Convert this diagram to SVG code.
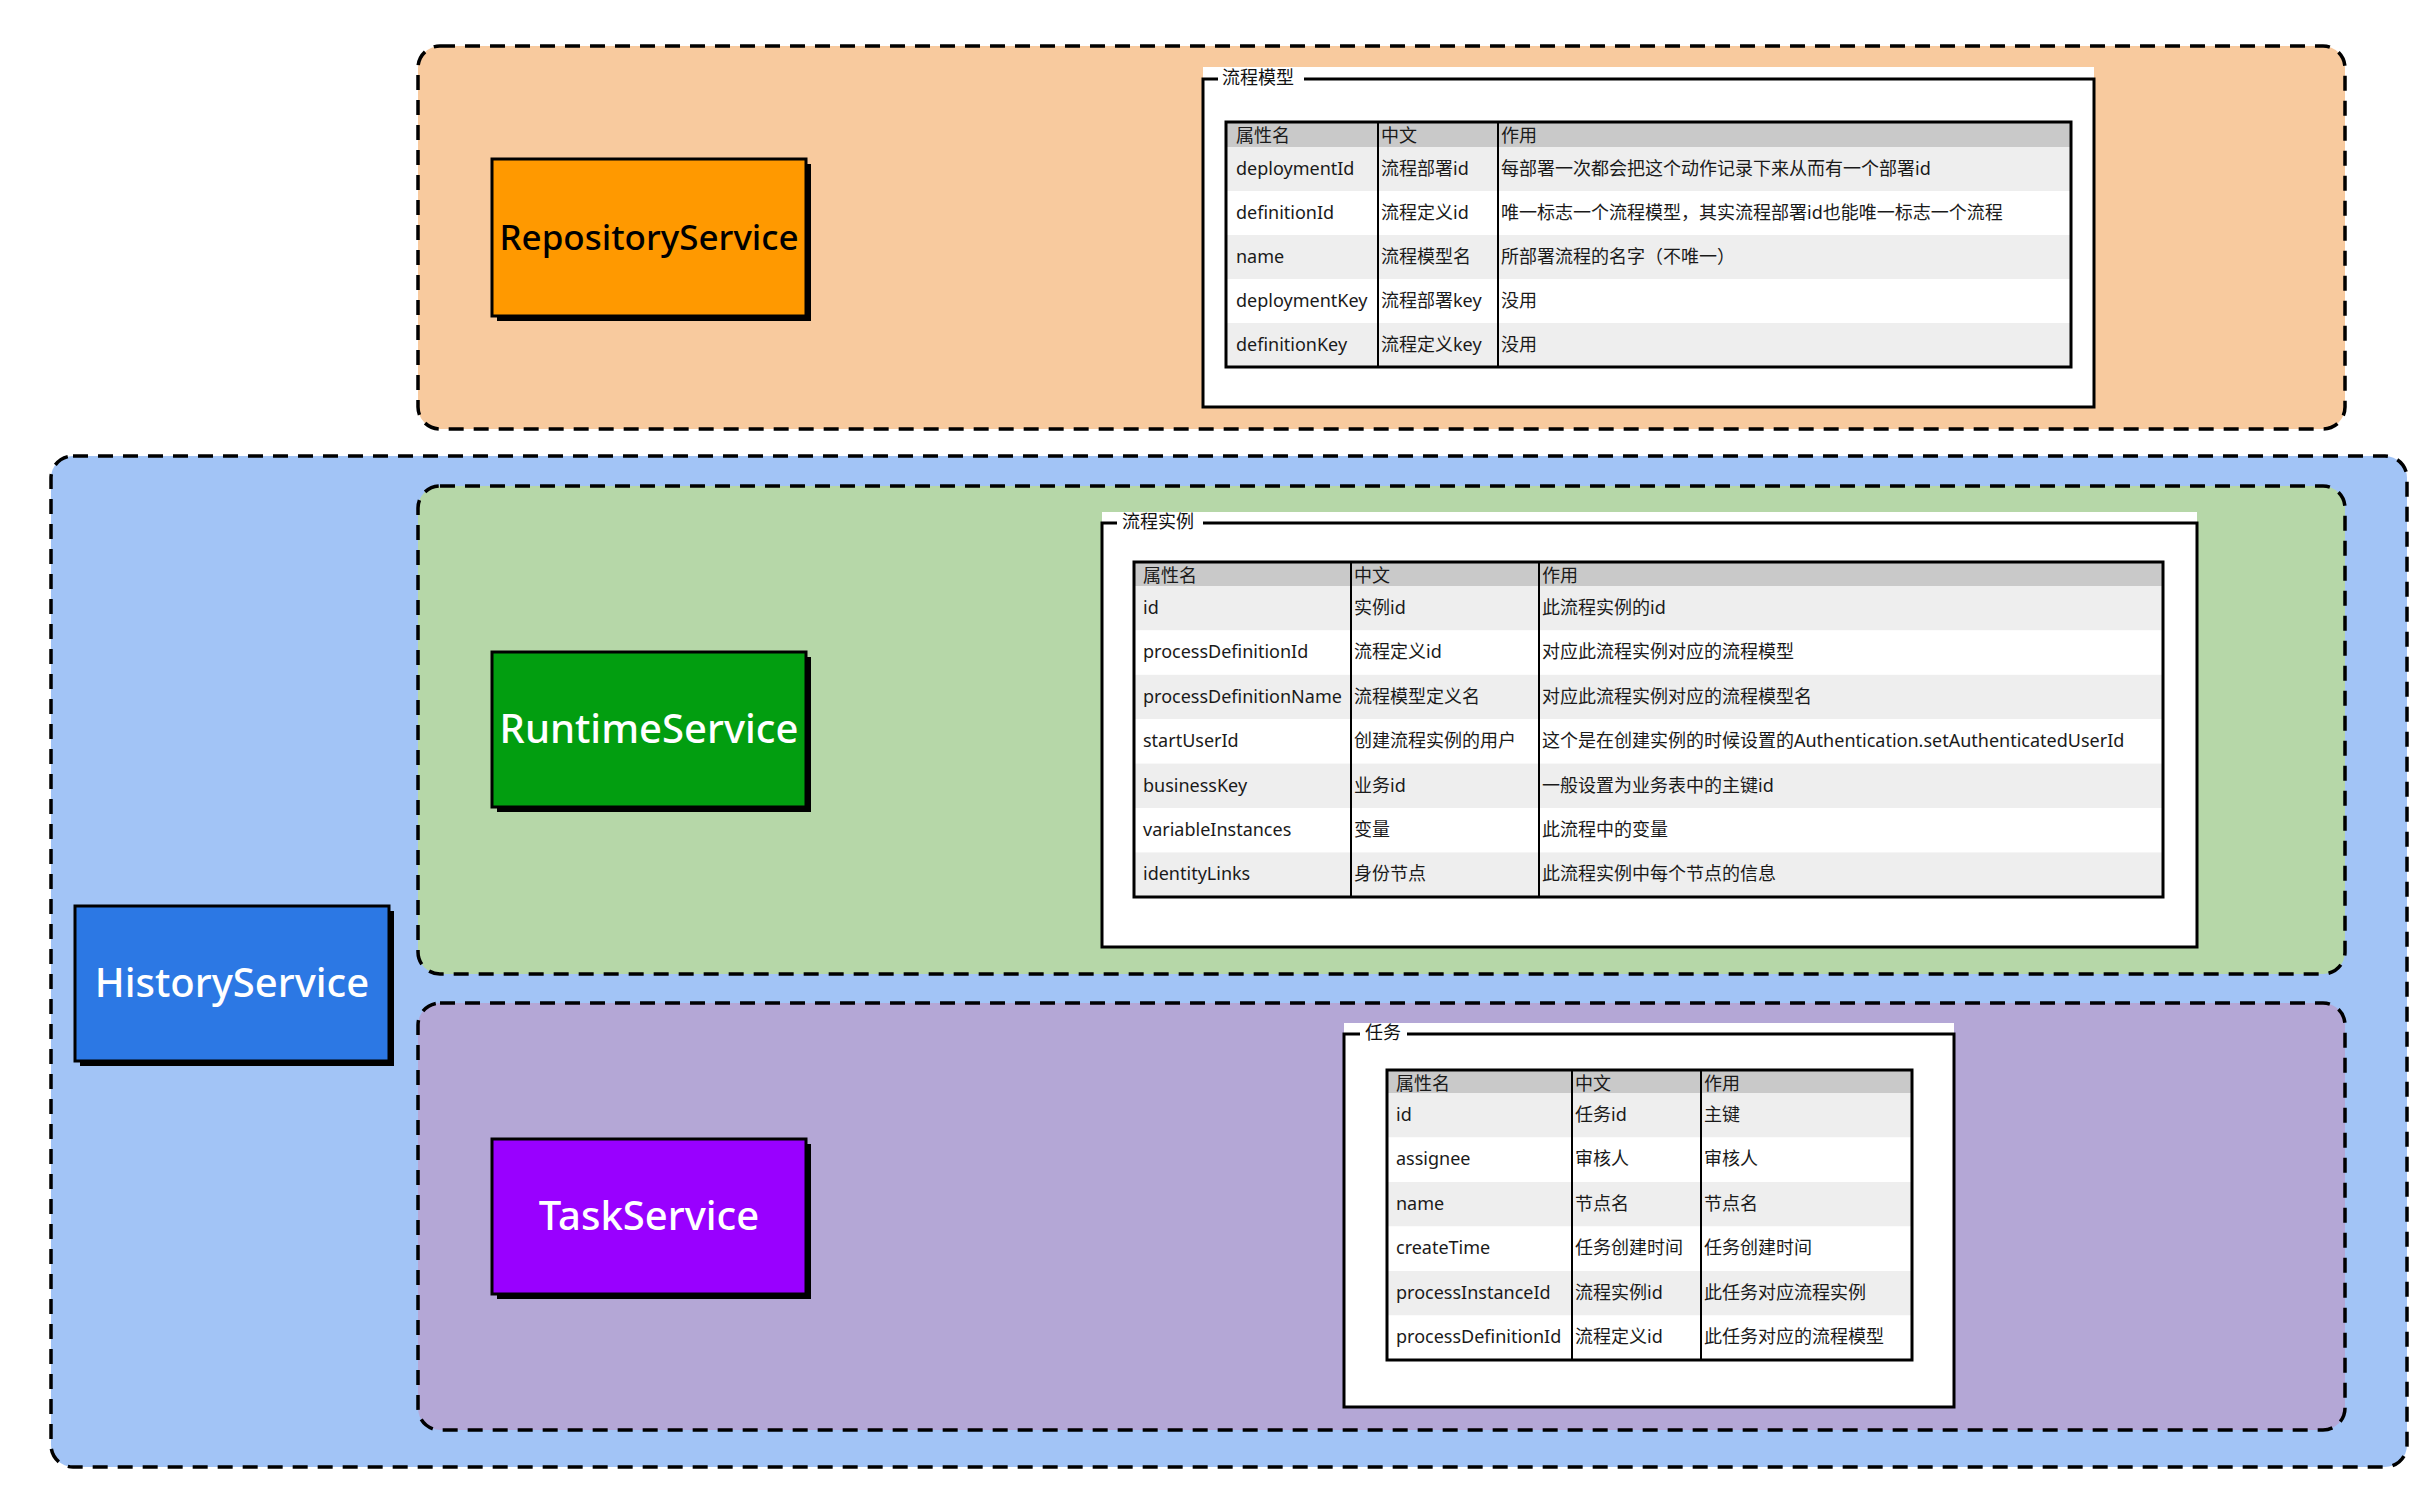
<svg xmlns="http://www.w3.org/2000/svg" width="2427" height="1495" viewBox="0 0 2427 1495">
<style>
.panel{stroke:#000;stroke-width:3.5;stroke-dasharray:15 10;}
.box{stroke:#000;stroke-width:3;}
.shadow{fill:#000;}
.svc{font-family:'Noto Sans','DejaVu Sans',sans-serif;font-size:40px;text-anchor:middle;font-weight:500;}
.frame{fill:#fff;}
.fl{stroke:#000;stroke-width:3;fill:none;}
.lbl{font-family:'Noto Sans CJK SC',sans-serif;font-size:18px;fill:#111;}
.t{font-family:'Noto Sans','Noto Sans CJK SC',sans-serif;font-size:18px;fill:#1a1a1a;}
.hdr{fill:#c9c9c9;}
.g{fill:#eeeeee;}
.w{fill:#ffffff;}
.tb{fill:none;stroke:#000;stroke-width:3;}
.cs{stroke:#000;stroke-width:2;}
</style>
<rect width="2427" height="1495" fill="#fff"/>

<!-- panels -->
<g id="panel-repository">
<rect class="panel" x="418" y="46" width="1927" height="383" rx="22" fill="#f8ca9e"/>
</g>
<g id="panel-history">
<rect class="panel" x="51" y="456" width="2356" height="1011" rx="22" fill="#a2c4f6"/>
</g>
<g id="panel-runtime">
<rect class="panel" x="418" y="486" width="1927" height="488" rx="22" fill="#b6d7a8"/>
</g>
<g id="panel-task">
<rect class="panel" x="418" y="1003" width="1927" height="427" rx="22" fill="#b4a7d6"/>
</g>

<!-- service nodes -->
<g id="node-repository">
<rect class="shadow" x="497" y="164" width="314" height="157"/>
<rect class="box" x="492" y="159" width="314" height="157" fill="#ff9900"/>
<text class="svc" x="649" y="250" font-size="35" style="font-size:35px" fill="#000">RepositoryService</text>
</g>
<g id="node-runtime">
<rect class="shadow" x="497" y="657" width="314" height="155"/>
<rect class="box" x="492" y="652" width="314" height="155" fill="#029e10"/>
<text class="svc" x="649" y="743" fill="#fff">RuntimeService</text>
</g>
<g id="node-history">
<rect class="shadow" x="80" y="911" width="314" height="155"/>
<rect class="box" x="75" y="906" width="314" height="155" fill="#2c78e4"/>
<text class="svc" x="232" y="997" fill="#fff">HistoryService</text>
</g>
<g id="node-task">
<rect class="shadow" x="497" y="1144" width="314" height="155"/>
<rect class="box" x="492" y="1139" width="314" height="155" fill="#9900ff"/>
<text class="svc" x="649" y="1230" fill="#fff">TaskService</text>
</g>

<!-- table 1: 流程模型 -->
<g id="table-model">
<rect class="frame" x="1203" y="67" width="891" height="340"/>
<path class="fl" d="M1218 79 H1203 V407 H2094 V79 H1304"/>
<text class="lbl" x="1222" y="84">流程模型</text>
<rect class="hdr" x="1226" y="122" width="845" height="25"/>
<rect class="g" x="1226" y="147" width="845" height="44"/>
<rect class="w" x="1226" y="191" width="845" height="44"/>
<rect class="g" x="1226" y="235" width="845" height="44"/>
<rect class="w" x="1226" y="279" width="845" height="44"/>
<rect class="g" x="1226" y="323" width="845" height="44"/>
<line class="cs" x1="1378" y1="122" x2="1378" y2="367"/>
<line class="cs" x1="1498" y1="122" x2="1498" y2="367"/>
<rect class="tb" x="1226" y="122" width="845" height="245"/>
<text class="t" x="1236" y="142">属性名</text><text class="t" x="1381" y="142">中文</text><text class="t" x="1501" y="142">作用</text>
<text class="t" x="1236" y="175">deploymentId</text><text class="t" x="1381" y="175">流程部署id</text><text class="t" x="1501" y="175">每部署一次都会把这个动作记录下来从而有一个部署id</text>
<text class="t" x="1236" y="219">definitionId</text><text class="t" x="1381" y="219">流程定义id</text><text class="t" x="1501" y="219">唯一标志一个流程模型，其实流程部署id也能唯一标志一个流程</text>
<text class="t" x="1236" y="263">name</text><text class="t" x="1381" y="263">流程模型名</text><text class="t" x="1501" y="263">所部署流程的名字（不唯一）</text>
<text class="t" x="1236" y="307">deploymentKey</text><text class="t" x="1381" y="307">流程部署key</text><text class="t" x="1501" y="307">没用</text>
<text class="t" x="1236" y="351">definitionKey</text><text class="t" x="1381" y="351">流程定义key</text><text class="t" x="1501" y="351">没用</text>
</g>

<!-- table 2: 流程实例 -->
<g id="table-instance">
<rect class="frame" x="1102" y="512" width="1095" height="435"/>
<path class="fl" d="M1117 523 H1102 V947 H2197 V523 H1203"/>
<text class="lbl" x="1122" y="528">流程实例</text>
<rect class="hdr" x="1134" y="562" width="1029" height="24"/>
<rect class="g" x="1134" y="586" width="1029" height="44.4"/>
<rect class="w" x="1134" y="630.4" width="1029" height="44.4"/>
<rect class="g" x="1134" y="674.8" width="1029" height="44.4"/>
<rect class="w" x="1134" y="719.2" width="1029" height="44.4"/>
<rect class="g" x="1134" y="763.6" width="1029" height="44.4"/>
<rect class="w" x="1134" y="808" width="1029" height="44.4"/>
<rect class="g" x="1134" y="852.4" width="1029" height="44.4"/>
<line class="cs" x1="1351" y1="562" x2="1351" y2="897"/>
<line class="cs" x1="1539" y1="562" x2="1539" y2="897"/>
<rect class="tb" x="1134" y="562" width="1029" height="335"/>
<text class="t" x="1143" y="582">属性名</text><text class="t" x="1354" y="582">中文</text><text class="t" x="1542" y="582">作用</text>
<text class="t" x="1143" y="614">id</text><text class="t" x="1354" y="614">实例id</text><text class="t" x="1542" y="614">此流程实例的id</text>
<text class="t" x="1143" y="658">processDefinitionId</text><text class="t" x="1354" y="658">流程定义id</text><text class="t" x="1542" y="658">对应此流程实例对应的流程模型</text>
<text class="t" x="1143" y="703">processDefinitionName</text><text class="t" x="1354" y="703">流程模型定义名</text><text class="t" x="1542" y="703">对应此流程实例对应的流程模型名</text>
<text class="t" x="1143" y="747">startUserId</text><text class="t" x="1354" y="747">创建流程实例的用户</text><text class="t" x="1542" y="747">这个是在创建实例的时候设置的Authentication.setAuthenticatedUserId</text>
<text class="t" x="1143" y="792">businessKey</text><text class="t" x="1354" y="792">业务id</text><text class="t" x="1542" y="792">一般设置为业务表中的主键id</text>
<text class="t" x="1143" y="836">variableInstances</text><text class="t" x="1354" y="836">变量</text><text class="t" x="1542" y="836">此流程中的变量</text>
<text class="t" x="1143" y="880">identityLinks</text><text class="t" x="1354" y="880">身份节点</text><text class="t" x="1542" y="880">此流程实例中每个节点的信息</text>
</g>

<!-- table 3: 任务 -->
<g id="table-task">
<rect class="frame" x="1344" y="1023" width="610" height="384"/>
<path class="fl" d="M1360 1034 H1344 V1407 H1954 V1034 H1407"/>
<text class="lbl" x="1365" y="1039">任务</text>
<rect class="hdr" x="1387" y="1070" width="525" height="23"/>
<rect class="g" x="1387" y="1093" width="525" height="44.5"/>
<rect class="w" x="1387" y="1137.5" width="525" height="44.5"/>
<rect class="g" x="1387" y="1182" width="525" height="44.5"/>
<rect class="w" x="1387" y="1226.5" width="525" height="44.5"/>
<rect class="g" x="1387" y="1271" width="525" height="44.5"/>
<rect class="w" x="1387" y="1315.5" width="525" height="44.5"/>
<line class="cs" x1="1572" y1="1070" x2="1572" y2="1360"/>
<line class="cs" x1="1701" y1="1070" x2="1701" y2="1360"/>
<rect class="tb" x="1387" y="1070" width="525" height="290"/>
<text class="t" x="1396" y="1090">属性名</text><text class="t" x="1575" y="1090">中文</text><text class="t" x="1704" y="1090">作用</text>
<text class="t" x="1396" y="1121">id</text><text class="t" x="1575" y="1121">任务id</text><text class="t" x="1704" y="1121">主键</text>
<text class="t" x="1396" y="1165">assignee</text><text class="t" x="1575" y="1165">审核人</text><text class="t" x="1704" y="1165">审核人</text>
<text class="t" x="1396" y="1210">name</text><text class="t" x="1575" y="1210">节点名</text><text class="t" x="1704" y="1210">节点名</text>
<text class="t" x="1396" y="1254">createTime</text><text class="t" x="1575" y="1254">任务创建时间</text><text class="t" x="1704" y="1254">任务创建时间</text>
<text class="t" x="1396" y="1299">processInstanceId</text><text class="t" x="1575" y="1299">流程实例id</text><text class="t" x="1704" y="1299">此任务对应流程实例</text>
<text class="t" x="1396" y="1343">processDefinitionId</text><text class="t" x="1575" y="1343">流程定义id</text><text class="t" x="1704" y="1343">此任务对应的流程模型</text>
</g>

<g id="connectors"></g>
</svg>
